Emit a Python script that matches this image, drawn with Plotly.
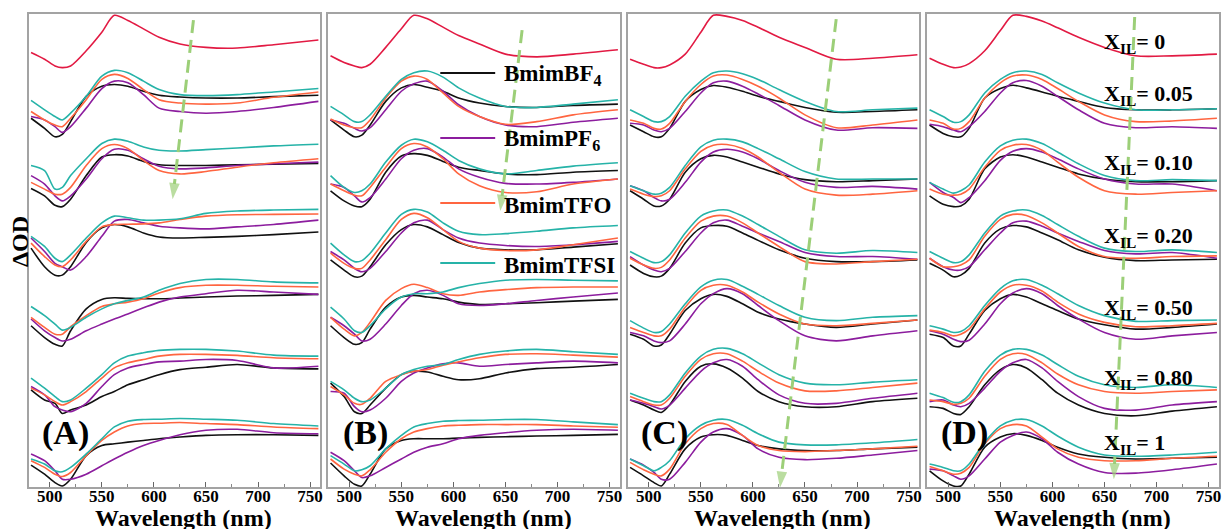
import plotly.graph_objects as go

W, H = 1226, 529
MT, MB = 14, 42
PLOT_H = H - MT - MB


def px_x(p):
    return p / W


def px_y(p):
    return (H - MB - p) / PLOT_H


# ---------------- data ----------------
WAVELENGTH = [482, 495, 505, 512, 520, 535, 550, 562, 575, 590, 605, 625, 650, 680, 715, 758]
PANELS = ["(A)", "(B)", "(C)", "(D)"]
X_IL = ["0", "0.05", "0.10", "0.20", "0.50", "0.80", "1"]
IL_NAMES = ["BmimBF<sub>4</sub>", "BmimPF<sub>6</sub>", "BmimTFO", "BmimTFSI"]
X_TICKS = [500, 550, 600, 650, 700, 750]

# Stacked ΔOD traces (arbitrary units, vertically offset per X_IL)
A_NEAT = [-155, -175, -195, -200, -195, -150, -95, -45, -60, -85, -110, -130, -140, -142, -132, -118]
A_BF4 = [
    [-350, -380, -405, -398, -360, -285, -255, -250, -255, -270, -282, -287, -290, -290, -286, -282],
    [-558, -580, -608, -612, -590, -520, -465, -458, -462, -478, -488, -490, -490, -488, -486, -484],
    [-735, -790, -815, -815, -790, -718, -675, -665, -672, -690, -702, -705, -703, -700, -695, -687],
    [-965, -1000, -1020, -1025, -980, -915, -887, -882, -884, -885, -885, -883, -880, -877, -875, -872],
    [-1155, -1185, -1195, -1225, -1215, -1200, -1175, -1160, -1140, -1125, -1110, -1095, -1088, -1080, -1090, -1093],
    [-1378, -1405, -1430, -1440, -1420, -1350, -1320, -1315, -1310, -1305, -1300, -1295, -1290, -1288, -1288, -1290],
]
A_PF6 = [
    [-345, -355, -375, -392, -375, -320, -262, -240, -245, -280, -320, -330, -335, -330, -318, -300],
    [-520, -545, -580, -595, -580, -530, -470, -442, -445, -470, -492, -500, -497, -490, -485, -480],
    [-705, -745, -780, -790, -800, -760, -700, -655, -650, -660, -670, -675, -678, -672, -665, -652],
    [-945, -980, -1000, -1010, -1005, -980, -960, -945, -930, -912, -895, -880, -870, -860, -865, -872],
    [-1145, -1170, -1205, -1215, -1220, -1195, -1145, -1110, -1090, -1080, -1072, -1070, -1065, -1068, -1090, -1085],
    [-1345, -1365, -1395, -1420, -1420, -1405, -1380, -1360, -1340, -1320, -1305, -1288, -1275, -1272, -1282, -1285],
]
A_TFO = [
    [-330, -355, -370, -375, -350, -295, -235, -220, -232, -265, -295, -305, -308, -305, -288, -272],
    [-540, -560, -575, -575, -555, -490, -440, -428, -440, -475, -505, -515, -508, -495, -482, -470],
    [-720, -760, -785, -790, -770, -715, -672, -665, -664, -663, -660, -650, -640, -636, -635, -634],
    [-940, -970, -990, -990, -968, -935, -908, -900, -895, -885, -868, -852, -845, -845, -848, -850],
    [-1150, -1170, -1190, -1200, -1190, -1160, -1120, -1090, -1075, -1065, -1055, -1050, -1050, -1053, -1060, -1063],
    [-1365, -1385, -1405, -1412, -1400, -1350, -1305, -1280, -1262, -1255, -1254, -1252, -1255, -1258, -1265, -1270],
]
A_TFSI = [
    [-297, -325, -345, -355, -335, -285, -225, -208, -215, -240, -265, -280, -283, -280, -272, -262],
    [-490, -505, -560, -555, -520, -470, -425, -412, -418, -435, -445, -447, -443, -438, -432, -427],
    [-700, -730, -765, -775, -755, -705, -660, -640, -645, -652, -652, -648, -632, -625, -622, -620],
    [-908, -935, -960, -978, -970, -940, -915, -900, -890, -880, -860, -840, -828, -828, -835, -838],
    [-1120, -1150, -1175, -1190, -1185, -1150, -1110, -1075, -1055, -1045, -1038, -1035, -1035, -1040, -1052, -1055],
    [-1360, -1375, -1395, -1398, -1385, -1345, -1300, -1265, -1248, -1243, -1242, -1240, -1242, -1245, -1255, -1262],
]

B_NEAT = [-165, -185, -195, -200, -190, -140, -85, -45, -55, -80, -105, -130, -160, -168, -160, -147]
B_BF4 = [
    [-355, -385, -405, -400, -370, -300, -260, -250, -258, -270, -290, -305, -315, -318, -312, -308],
    [-565, -595, -610, -612, -590, -510, -462, -455, -460, -478, -495, -505, -515, -517, -510, -505],
    [-770, -800, -820, -818, -790, -725, -680, -665, -672, -695, -718, -735, -740, -740, -732, -722],
    [-965, -1000, -1020, -1015, -975, -910, -880, -875, -880, -885, -895, -902, -900, -897, -892, -887],
    [-1135, -1175, -1220, -1225, -1200, -1150, -1110, -1100, -1102, -1115, -1125, -1122, -1105, -1092, -1088, -1080],
    [-1372, -1410, -1435, -1440, -1405, -1330, -1305, -1300, -1300, -1300, -1298, -1296, -1294, -1292, -1290, -1287],
]
B_PF6 = [
    [-355, -365, -380, -388, -378, -325, -270, -248, -240, -270, -310, -345, -370, -375, -362, -350],
    [-545, -555, -580, -598, -585, -530, -470, -445, -440, -465, -500, -525, -543, -545, -540, -530],
    [-745, -770, -795, -805, -795, -745, -690, -660, -652, -680, -705, -720, -727, -730, -725, -715],
    [-940, -965, -990, -1010, -1005, -960, -905, -870, -860, -875, -900, -905, -900, -890, -880, -868],
    [-1160, -1165, -1205, -1220, -1215, -1180, -1130, -1105, -1090, -1078, -1075, -1085, -1080, -1075, -1070, -1075],
    [-1340, -1365, -1395, -1415, -1410, -1385, -1360, -1340, -1325, -1315, -1300, -1290, -1282, -1275, -1272, -1275],
]
B_TFO = [
    [-352, -370, -378, -378, -355, -290, -240, -225, -235, -275, -315, -345, -368, -360, -340, -325],
    [-545, -565, -578, -580, -555, -495, -440, -425, -435, -470, -515, -550, -570, -568, -545, -530],
    [-750, -780, -795, -795, -770, -710, -650, -632, -645, -680, -715, -735, -742, -740, -725, -705],
    [-940, -975, -995, -985, -955, -890, -855, -842, -852, -870, -875, -865, -858, -852, -850, -850],
    [-1145, -1170, -1195, -1198, -1180, -1130, -1110, -1100, -1095, -1082, -1072, -1060, -1050, -1048, -1052, -1058],
    [-1360, -1390, -1405, -1410, -1392, -1340, -1300, -1280, -1270, -1262, -1260, -1258, -1258, -1258, -1262, -1266],
]
B_TFSI = [
    [-315, -340, -360, -360, -340, -285, -235, -215, -210, -228, -260, -290, -315, -318, -308, -295],
    [-520, -555, -570, -565, -545, -480, -430, -412, -420, -445, -475, -500, -515, -505, -492, -482],
    [-720, -755, -775, -772, -750, -690, -635, -620, -628, -660, -685, -695, -692, -685, -675, -668],
    [-910, -945, -980, -985, -965, -915, -880, -870, -870, -865, -852, -840, -830, -828, -830, -832],
    [-1130, -1155, -1180, -1190, -1185, -1150, -1110, -1095, -1085, -1080, -1065, -1050, -1040, -1035, -1042, -1050],
    [-1350, -1375, -1395, -1392, -1380, -1330, -1290, -1265, -1255, -1248, -1246, -1245, -1243, -1243, -1250, -1258],
]

C_NEAT = [-175, -190, -200, -200, -192, -160, -95, -45, -48, -60, -80, -110, -140, -175, -172, -162]
C_BF4 = [
    [-370, -390, -405, -405, -380, -300, -265, -253, -258, -270, -285, -300, -318, -332, -330, -325],
    [-565, -590, -610, -610, -590, -510, -470, -460, -465, -480, -495, -515, -532, -538, -535, -530],
    [-785, -810, -820, -818, -795, -720, -675, -668, -670, -690, -712, -740, -765, -775, -775, -770],
    [-990, -1005, -1025, -1022, -990, -920, -885, -872, -878, -900, -925, -945, -960, -970, -960, -948],
    [-1185, -1200, -1215, -1222, -1200, -1130, -1085, -1078, -1090, -1120, -1160, -1190, -1205, -1205, -1190, -1180],
    [-1385, -1410, -1430, -1440, -1405, -1330, -1295, -1288, -1290, -1305, -1320, -1330, -1335, -1335, -1330, -1325],
]
C_PF6 = [
    [-365, -370, -385, -390, -380, -330, -275, -245, -240, -255, -278, -312, -355, -385, -378, -380],
    [-550, -565, -585, -595, -590, -540, -480, -450, -442, -450, -470, -505, -540, -555, -552, -560],
    [-760, -785, -800, -805, -795, -745, -690, -660, -652, -670, -690, -715, -748, -760, -760, -768],
    [-985, -995, -1010, -1015, -1010, -960, -900, -870, -855, -870, -905, -950, -995, -1010, -995, -980],
    [-1185, -1195, -1205, -1212, -1200, -1150, -1100, -1075, -1065, -1085, -1125, -1170, -1195, -1195, -1180, -1165],
    [-1360, -1378, -1400, -1420, -1420, -1370, -1310, -1280, -1270, -1290, -1330, -1355, -1362, -1358, -1348, -1335],
]
C_TFO = [
    [-355, -365, -380, -382, -365, -300, -250, -225, -222, -235, -255, -290, -340, -378, -370, -355],
    [-560, -575, -582, -580, -565, -500, -448, -430, -428, -440, -465, -510, -560, -578, -575, -565],
    [-765, -785, -795, -792, -770, -705, -655, -640, -640, -660, -690, -730, -775, -782, -775, -768],
    [-970, -985, -995, -995, -975, -910, -860, -845, -845, -865, -895, -930, -960, -965, -958, -948],
    [-1175, -1190, -1200, -1200, -1180, -1115, -1065, -1048, -1048, -1070, -1100, -1135, -1158, -1158, -1148, -1135],
    [-1370, -1392, -1405, -1410, -1390, -1315, -1270, -1255, -1258, -1290, -1320, -1335, -1338, -1335, -1330, -1322],
]
C_TFSI = [
    [-325, -345, -360, -360, -345, -285, -240, -215, -210, -218, -235, -265, -300, -330, -325, -320],
    [-550, -565, -575, -572, -555, -490, -435, -415, -412, -420, -440, -470, -508, -530, -530, -530],
    [-745, -765, -778, -775, -755, -690, -640, -625, -622, -640, -665, -700, -740, -750, -742, -748],
    [-950, -972, -985, -982, -960, -900, -850, -830, -828, -848, -872, -905, -940, -950, -940, -935],
    [-1165, -1180, -1190, -1190, -1170, -1105, -1055, -1035, -1032, -1048, -1075, -1110, -1135, -1140, -1132, -1125],
    [-1360, -1380, -1395, -1385, -1365, -1300, -1260, -1245, -1243, -1260, -1285, -1310, -1318, -1318, -1312, -1302],
]

D_NEAT = [-172, -190, -200, -198, -188, -150, -90, -45, -48, -62, -82, -110, -140, -165, -165, -160]
D_BF4 = [
    [-370, -395, -405, -405, -380, -290, -262, -252, -260, -272, -285, -300, -318, -325, -325, -322],
    [-580, -605, -612, -610, -590, -500, -465, -458, -465, -480, -495, -515, -530, -538, -538, -535],
    [-780, -800, -820, -815, -795, -720, -678, -668, -672, -690, -710, -740, -762, -772, -770, -768],
    [-990, -1000, -1025, -1025, -990, -920, -885, -872, -880, -900, -920, -945, -962, -975, -970, -960],
    [-1205, -1210, -1225, -1228, -1205, -1140, -1095, -1080, -1090, -1125, -1165, -1200, -1225, -1232, -1218, -1205],
    [-1395, -1425, -1440, -1440, -1405, -1325, -1295, -1285, -1290, -1305, -1325, -1345, -1355, -1360, -1358, -1355],
]
D_PF6 = [
    [-368, -375, -385, -390, -375, -330, -275, -245, -238, -255, -285, -325, -365, -378, -375, -380],
    [-540, -570, -585, -600, -585, -535, -475, -448, -440, -450, -470, -500, -530, -545, -545, -565],
    [-765, -790, -800, -800, -790, -740, -690, -660, -655, -670, -690, -715, -742, -752, -748, -765],
    [-980, -990, -1005, -1012, -1008, -960, -900, -868, -855, -870, -905, -945, -985, -1005, -995, -985],
    [-1190, -1185, -1200, -1205, -1195, -1150, -1100, -1075, -1065, -1090, -1130, -1175, -1210, -1215, -1200, -1190],
    [-1390, -1395, -1410, -1420, -1410, -1360, -1310, -1290, -1280, -1300, -1340, -1375, -1400, -1402, -1392, -1375],
]
D_TFO = [
    [-355, -365, -382, -380, -360, -290, -245, -225, -222, -235, -262, -300, -340, -360, -358, -350],
    [-560, -575, -578, -575, -560, -495, -445, -430, -428, -445, -480, -525, -565, -575, -570, -565],
    [-765, -790, -790, -785, -770, -700, -650, -635, -638, -660, -690, -730, -760, -765, -760, -758],
    [-978, -985, -995, -990, -975, -915, -865, -845, -845, -862, -895, -930, -955, -968, -965, -958],
    [-1185, -1190, -1198, -1195, -1180, -1115, -1065, -1048, -1050, -1075, -1108, -1140, -1160, -1165, -1160, -1155],
    [-1382, -1395, -1405, -1402, -1385, -1315, -1270, -1258, -1262, -1295, -1330, -1355, -1365, -1365, -1358, -1352],
]
D_TFSI = [
    [-325, -345, -362, -360, -340, -275, -235, -215, -210, -220, -245, -275, -305, -325, -325, -322],
    [-540, -560, -572, -565, -548, -480, -432, -415, -412, -425, -450, -485, -520, -535, -532, -535],
    [-745, -765, -778, -775, -755, -690, -640, -625, -622, -638, -665, -700, -735, -745, -740, -748],
    [-965, -975, -985, -982, -965, -905, -855, -832, -828, -845, -870, -905, -935, -952, -950, -948],
    [-1165, -1178, -1192, -1190, -1170, -1100, -1052, -1035, -1035, -1052, -1080, -1115, -1140, -1148, -1140, -1148],
    [-1375, -1385, -1395, -1395, -1375, -1310, -1262, -1245, -1243, -1262, -1292, -1325, -1348, -1352, -1348, -1340],
]

NEAT = [A_NEAT, B_NEAT, C_NEAT, D_NEAT]
SERIES = [
    [A_BF4, A_PF6, A_TFO, A_TFSI],
    [B_BF4, B_PF6, B_TFO, B_TFSI],
    [C_BF4, C_PF6, C_TFO, C_TFSI],
    [D_BF4, D_PF6, D_TFO, D_TFSI],
]

# trend arrows (wavelength, stacked ΔOD) : start -> tip
ARROW_START = [(638, -59), (666, -89), (680, -56), (679, -50)]
ARROW_TIP = [(618, -590), (645, -625), (626, -1445), (659, -1420)]

# ---------------- style ----------------
NEAT_COLOR = "#e21a43"
IL_COLORS = ["#111111", "#8c1d9e", "#ff6540", "#26b3a8"]
ARROW_COLOR = "#9ccf78"
FONT = "Liberation Serif"
PANEL_LEFT_PX = [29, 329, 629, 929]
PANEL_W_PX = 292
X_RANGE = [480, 760]
Y_RANGE = [-1443, -41]

fig = go.Figure()

for p in range(4):
    sx = "" if p == 0 else str(p + 1)
    xa, ya = "x" + sx, "y" + sx
    fig.add_trace(go.Scatter(
        x=WAVELENGTH, y=NEAT[p], mode="lines", xaxis=xa, yaxis=ya,
        line=dict(color=NEAT_COLOR, width=1.6, shape="spline", smoothing=0.8),
        showlegend=False, hoverinfo="skip"))
    for r in range(6):
        for s in range(4):
            fig.add_trace(go.Scatter(
                x=WAVELENGTH, y=SERIES[p][s][r], mode="lines", xaxis=xa, yaxis=ya,
                line=dict(color=IL_COLORS[s], width=1.6, shape="spline", smoothing=0.8),
                showlegend=False, hoverinfo="skip"))
    (x0, y0), (x1, y1) = ARROW_START[p], ARROW_TIP[p]
    fig.add_trace(go.Scatter(
        x=[x0, x1], y=[y0, y1], mode="lines+markers", xaxis=xa, yaxis=ya,
        line=dict(color=ARROW_COLOR, width=3, dash="13px,7px"),
        marker=dict(symbol=["circle", "arrow"], size=[0, 17], color=ARROW_COLOR,
                    angleref="previous", line=dict(width=0)),
        showlegend=False, hoverinfo="skip"))

    left = PANEL_LEFT_PX[p]
    dom = [px_x(left), px_x(left + PANEL_W_PX)]
    axis_common = dict(showline=True, mirror=True, linecolor="#a3a3a3", linewidth=1.5,
                       showgrid=False, zeroline=False)
    fig.layout["xaxis" + sx] = dict(
        domain=dom, range=X_RANGE, anchor=ya, tickvals=X_TICKS,
        ticks="inside", ticklen=5, tickwidth=1, tickcolor="#666",
        minor=dict(dtick=25, tick0=500, ticks="inside", ticklen=3, tickcolor="#888"),
        tickfont=dict(family=FONT, size=17, color="black", weight="bold"),
        ticklabelstandoff=-7, **axis_common)
    fig.layout["yaxis" + sx] = dict(
        domain=[0, 1], range=Y_RANGE, anchor=xa, showticklabels=False, ticks="",
        **axis_common)

    fig.add_annotation(text="<b>Wavelength (nm)</b>", xref="paper", yref="paper",
                       x=px_x(left + PANEL_W_PX / 2 + 9), y=px_y(518), showarrow=False,
                       xanchor="center", yanchor="middle",
                       font=dict(family=FONT, size=24, color="black"))
    fig.add_annotation(text="<b>" + PANELS[p] + "</b>", xref="paper", yref="paper",
                       x=px_x(left + 37), y=px_y(433), showarrow=False,
                       xanchor="center", yanchor="middle",
                       font=dict(family=FONT, size=34, color="black"))

# y-axis title
fig.add_annotation(text="<b>ΔOD</b>", xref="paper", yref="paper", x=px_x(20), y=px_y(241),
                   showarrow=False, textangle=-90, xanchor="center", yanchor="middle",
                   font=dict(family=FONT, size=24, color="black"))

# legend drawn inside panel B
LEG_Y_PX = [73, 138, 203, 263]
for i, name in enumerate(IL_NAMES):
    fig.add_shape(type="line", xref="paper", yref="paper",
                  x0=px_x(441), x1=px_x(496), y0=px_y(LEG_Y_PX[i]), y1=px_y(LEG_Y_PX[i]),
                  line=dict(color=IL_COLORS[i], width=2))
    fig.add_annotation(text="<b>" + name + "</b>", xref="paper", yref="paper",
                       x=px_x(503), y=px_y(LEG_Y_PX[i] + 2), showarrow=False,
                       xanchor="left", yanchor="middle",
                       font=dict(family=FONT, size=23, color="black"))

# X_IL labels in panel D
XIL_Y_PX = [39, 91, 160, 233, 305, 375, 440]
for i, v in enumerate(X_IL):
    fig.add_annotation(text="<b>X<sub>IL</sub>= " + v + "</b>", xref="paper", yref="paper",
                       x=px_x(1104), y=px_y(XIL_Y_PX[i] + 4), showarrow=False,
                       xanchor="left", yanchor="middle",
                       font=dict(family=FONT, size=22, color="black"))

fig.update_layout(width=W, height=H, margin=dict(l=0, r=0, t=MT, b=MB),
                  paper_bgcolor="white", plot_bgcolor="white", showlegend=False)

fig.write_html("out.html", config={"displayModeBar": False},
               post_script="document.body.style.margin='0';document.body.style.overflow='hidden';")
